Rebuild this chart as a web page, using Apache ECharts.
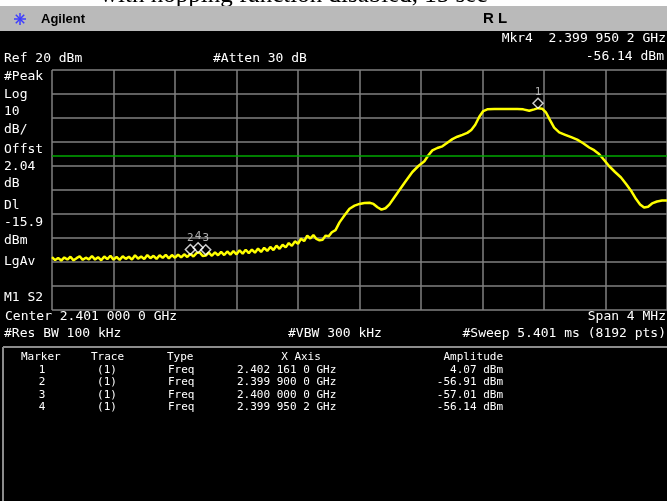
<!DOCTYPE html>
<html>
<head>
<meta charset="utf-8">
<script src="https://cdn.jsdelivr.net/npm/echarts@6/dist/echarts.min.js"></script>
<style>
html,body{margin:0;padding:0;background:#000;}
#c{width:667px;height:501px;}
</style>
</head>
<body>
<div id="c"></div>
<script>
// Frequency offsets in kHz from start of span (2.399 GHz), amplitude in dBm
var traceKHz = [
0,20,40,60,80,100,120,140,160,180,200,220,240,260,280,300,320,340,360,380,
400,420,440,460,480,500,520,540,560,580,600,620,640,660,680,700,720,740,760,780,
800,820,840,860,880,900,920,940,960,980,1000,1020,1040,1060,1080,1100,1120,1140,1160,1180,
1200,1220,1240,1260,1280,1300,1320,1340,1360,1380,1400,1420,1440,1460,1480,1500,1520,1540,1560,1580,
1600,1620,1640,1660,1680,1700,1720,1740,1760,1780,1800,1820,
1844,1870,1903,1935,1968,2000,2032,2065,2091,2117,2143,2169,2195,2227,2260,2299,2344,2383,2422,2448,
2474,2506,2539,2571,2604,2636,2669,2701,2727,2753,2779,2805,2831,2877,2929,2981,3026,3065,3104,3136,
3162,3188,3214,3240,3266,3299,3338,3377,3416,3455,3494,3526,3558,3591,3623,3662,3701,3734,3766,3799,
3825,3851,3877,3903,3935,3968,4000
];
var traceDbm = [
-58.0,-59.2,-58.3,-59.4,-58.1,-59.0,-57.8,-59.3,-58.4,-57.6,-59.1,-58.2,-58.9,-57.5,-59.0,-58.0,-59.3,-57.7,-58.8,-57.4,
-59.0,-57.9,-59.1,-57.6,-58.7,-57.8,-59.0,-57.2,-58.6,-57.7,-58.8,-57.1,-58.4,-57.4,-58.7,-57.2,-58.3,-57.0,-58.5,-57.1,
-58.2,-56.9,-58.1,-56.8,-57.9,-56.6,-57.7,-56.3,-56.0,-57.5,-57.3,-56.1,-57.4,-56.0,-57.2,-55.8,-57.1,-55.6,-56.9,-55.5,
-56.8,-55.1,-56.5,-54.9,-56.3,-54.8,-56.1,-54.4,-55.8,-54.1,-55.4,-53.7,-55.0,-53.2,-54.5,-52.8,-53.9,-52.1,-53.3,-51.4,
-52.4,-50.3,-51.3,-49.0,-50.2,-48.8,-50.4,-51.0,-50.7,-49.0,-49.3,-47.6,
-46.7,-43.5,-40.5,-37.8,-36.5,-35.8,-35.4,-35.3,-35.8,-37.2,-38.2,-37.6,-36.0,-33.0,-30.0,-26.5,-22.5,-20.0,-18.0,-15.5,
-13.5,-12.5,-11.8,-10.3,-8.8,-7.8,-7.0,-6.2,-5.0,-2.8,0.5,2.9,3.6,3.7,3.8,3.7,3.8,3.6,3.0,3.6,
4.1,3.9,2.2,-1.0,-4.0,-6.0,-7.0,-8.0,-9.0,-10.5,-12.3,-13.4,-15.0,-17.5,-20.0,-22.5,-24.8,-27.5,-30.3,-33.8,
-36.0,-37.3,-37.0,-35.6,-34.8,-34.4,-34.4
];
var displayLineDbm = -15.9;
var markerNames = ['1','2','3','4'];
var markerKHz = [3161.0, 900.0, 1000.0, 950.2];
var markerDbm = [4.07, -56.91, -57.01, -56.14];
var markerFreqText = ['2.402 161 0 GHz','2.399 900 0 GHz','2.400 000 0 GHz','2.399 950 2 GHz'];
var markerAmpText = ['4.07 dBm','-56.91 dBm','-57.01 dBm','-56.14 dBm'];
var leftLabels = ['#Peak','Log','10','dB/','Offst','2.04','dB','Dl','-15.9','dBm','LgAv','M1 S2'];
var leftLabelY = [77,95,112,130,150,167,184,206,223,241,262,298];

var MONO = 'DejaVu Sans Mono';
var traceData = traceKHz.map(function(k,i){return [k, traceDbm[i]];});
var markerData = markerKHz.map(function(k,i){return {name: markerNames[i], value:[k, markerDbm[i]]};});

function txt(s, x, y, opt){
  opt = opt || {};
  return {type:'text', x:x, y:y, z: opt.z || 10, silent:true,
    style:{text:s, fill: opt.fill || '#ffffff', font: opt.font || ('13px "' + MONO + '"'),
      textAlign: opt.align || 'left', textVerticalAlign: opt.valign || 'middle'}};
}

var g = [];
g.push({type:'rect', shape:{x:0,y:0,width:667,height:6}, style:{fill:'#ffffff'}, z:1});
g.push(txt('with hopping function disabled, 15 sec', 100, -5, {fill:'#000', font:'25px "Liberation Serif"', z:2}));
g.push({type:'rect', shape:{x:0,y:6,width:667,height:25}, style:{fill:'#bababa'}, z:3});
// star logo
var cx=20, cy=19, r=6;
[0,45,90,135].forEach(function(a){
  var rad=a*Math.PI/180, dx=Math.cos(rad)*r, dy=Math.sin(rad)*r;
  g.push({type:'line', shape:{x1:cx-dx,y1:cy-dy,x2:cx+dx,y2:cy+dy}, style:{stroke:'#3c3cff', lineWidth:1.5}, z:4});
});
g.push(txt('Agilent', 41, 19, {fill:'#000', font:'bold 13px "Liberation Sans"', z:4}));
g.push(txt('R L', 495, 19, {fill:'#000', font:'bold 15px "Liberation Sans"', align:'center', z:4}));

g.push(txt('Mkr4  2.399 950 2 GHz', 666, 39, {align:'right'}));
g.push(txt('-56.14 dBm', 664, 57, {align:'right'}));
g.push(txt('Ref 20 dBm', 4, 59));
g.push(txt('#Atten 30 dB', 213, 59));
leftLabels.forEach(function(s,i){ g.push(txt(s, 4, leftLabelY[i])); });
g.push(txt('Center 2.401 000 0 GHz', 5, 317));
g.push(txt('Span 4 MHz', 666, 317, {align:'right'}));
g.push(txt('#Res BW 100 kHz', 4, 334));
g.push(txt('#VBW 300 kHz', 288, 334));
g.push(txt('#Sweep 5.401 ms (8192 pts)', 666, 334, {align:'right'}));

// table frame
g.push({type:'line', shape:{x1:3,y1:347,x2:667,y2:347}, style:{stroke:'#8c8c8c', lineWidth:2}, z:5});
g.push({type:'line', shape:{x1:3,y1:347,x2:3,y2:501}, style:{stroke:'#8c8c8c', lineWidth:2}, z:5});

var TF = '11px "' + MONO + '"';
var rowY = [357, 370, 382.5, 395, 407.5];
g.push(txt('Marker', 21, rowY[0], {font:TF}));
g.push(txt('Trace', 91, rowY[0], {font:TF}));
g.push(txt('Type', 167, rowY[0], {font:TF}));
g.push(txt('X Axis', 301, rowY[0], {font:TF, align:'center'}));
g.push(txt('Amplitude', 503, rowY[0], {font:TF, align:'right'}));
markerNames.forEach(function(n,i){
  var y = rowY[i+1];
  g.push(txt(n, 42, y, {font:TF, align:'center'}));
  g.push(txt('(1)', 107, y, {font:TF, align:'center'}));
  g.push(txt('Freq', 168, y, {font:TF}));
  g.push(txt(markerFreqText[i], 237, y, {font:TF}));
  g.push(txt(markerAmpText[i], 503, y, {font:TF, align:'right'}));
});

var chart = echarts.init(document.getElementById('c'), null, {renderer:'canvas'});
chart.setOption({
  backgroundColor:'#000000',
  animation:false,
  grid:{left:52, top:70, width:616, height:240, show:false},
  xAxis:{type:'value', min:0, max:4000, interval:400,
    axisLine:{show:false}, axisTick:{show:false}, axisLabel:{show:false},
    splitLine:{show:true, lineStyle:{color:'#808080', width:1.5}}},
  yAxis:{type:'value', min:-80, max:20, interval:10,
    axisLine:{show:false}, axisTick:{show:false}, axisLabel:{show:false},
    splitLine:{show:true, lineStyle:{color:'#808080', width:1.5}}},
  graphic:g,
  series:[
    {type:'line', data:traceData, showSymbol:false, symbol:'none',
      lineStyle:{color:'#ffff00', width:2.5}, z:3,
      markLine:{silent:true, symbol:'none', label:{show:false},
        lineStyle:{color:'#00a800', width:1.5, type:'solid'},
        data:[{yAxis:displayLineDbm}]}},
    {type:'scatter', data:markerData, symbol:'diamond', symbolSize:10, symbolOffset:[0,-5],
      itemStyle:{color:'rgba(0,0,0,0)', borderColor:'#ffffff', borderWidth:1.5}, z:5,
      label:{show:true, position:'top', distance:0, formatter:function(p){return p.name;},
        color:'#d8d8d8', fontSize:11, fontFamily:MONO}}
  ]
});
</script>
</body>
</html>
